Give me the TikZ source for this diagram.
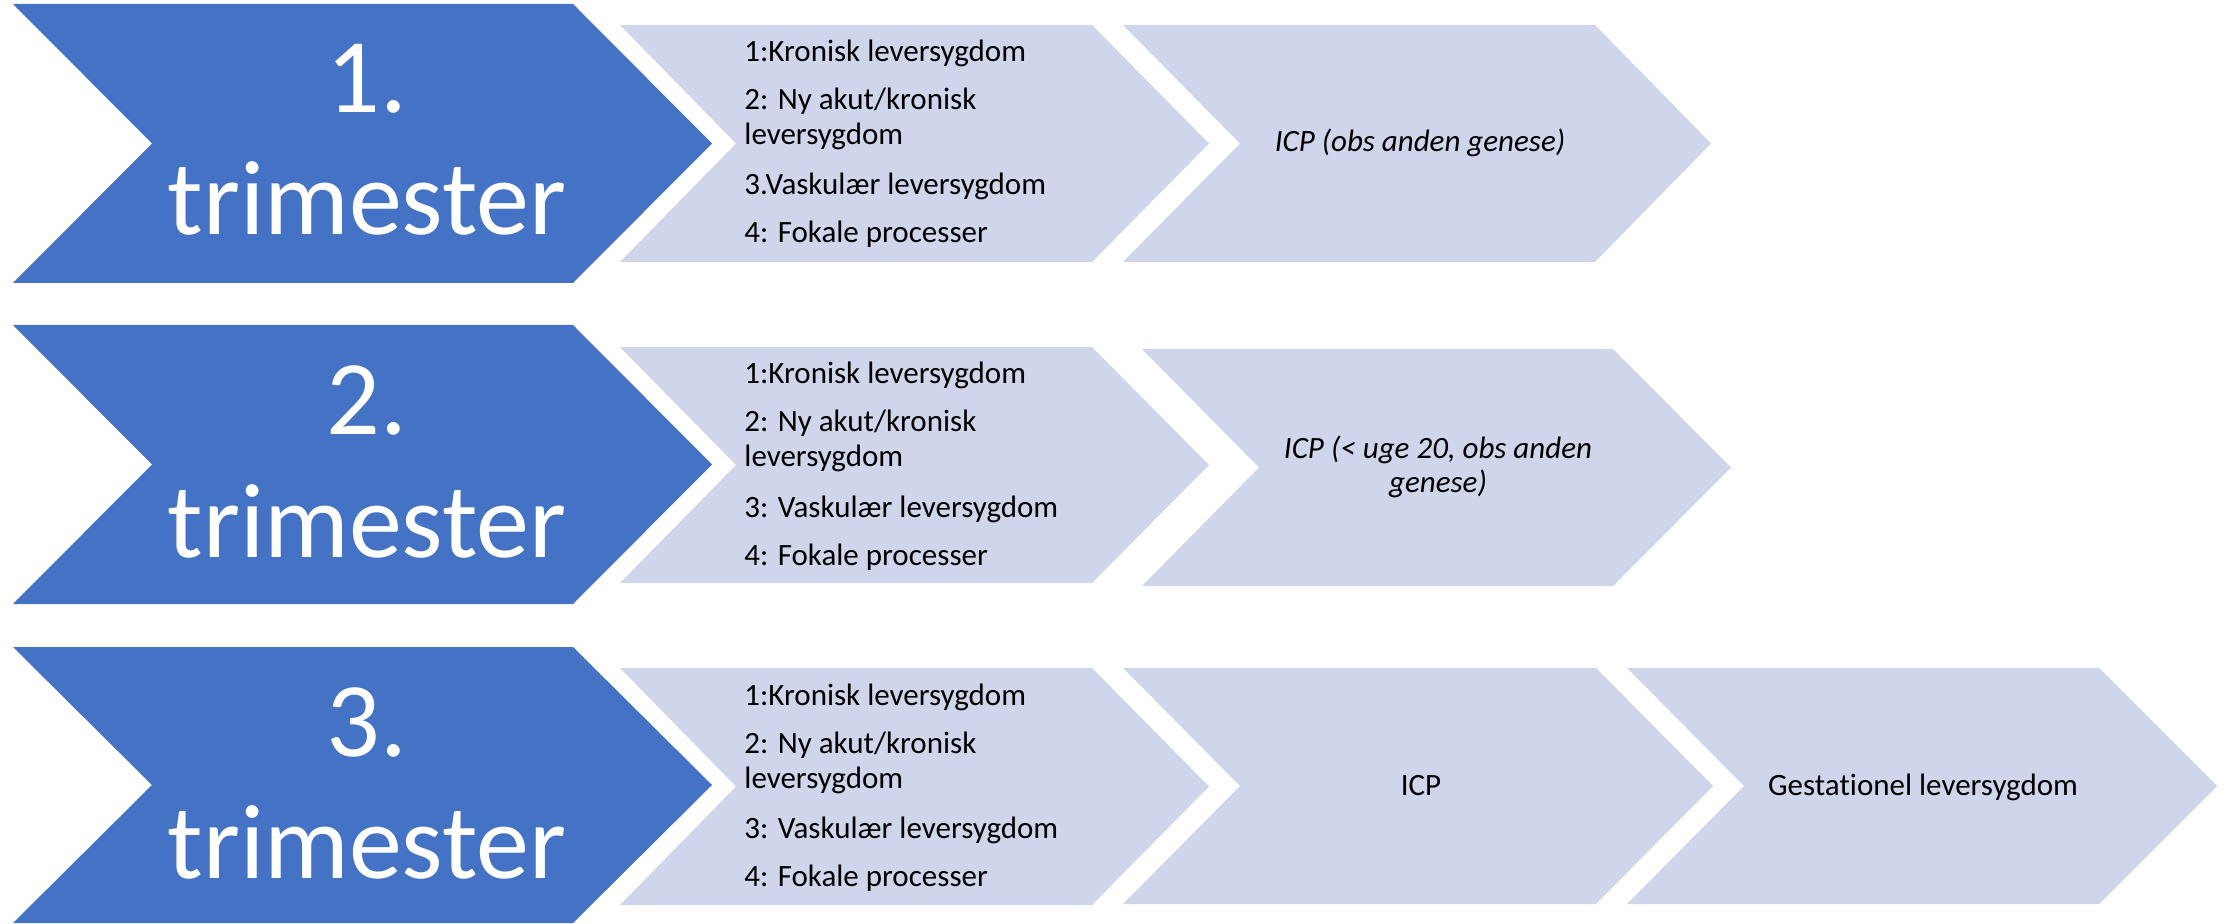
\documentclass[tikz,border=0pt]{standalone}
\usepackage{fontspec}
\setmainfont[Ligatures={NoCommon}]{Carlito}
\definecolor{darkblue}{RGB}{68,114,196}
\definecolor{lightlav}{RGB}{207,213,234}
\newcommand{\mychev}[7]{%
  \fill[#1] (#2,#6) -- (#3,#6) -- (#4,{(#6+#7)/2}) -- (#3,#7) -- (#2,#7) -- (#5,{(#6+#7)/2}) -- cycle;}
\begin{document}
\begin{tikzpicture}[x=0.5pt,y=-0.5pt,
  bigtxt/.style={inner sep=0pt,anchor=base,text=white,font=\fontsize{53}{61}\selectfont},
  listtxt/.style={inner sep=0pt,anchor=base west,text=black,font=\fontsize{15.5}{17.5}\selectfont},
  midtxt/.style={inner sep=0pt,anchor=base,text=black,font=\fontsize{15.5}{17.5}\selectfont},
  ittxt/.style={midtxt,font=\fontsize{15.5}{17.5}\selectfont\itshape}]
\useasboundingbox (0,0) rectangle (2231,924);
% dark chevrons
\mychev{darkblue}{13}{573}{712}{152}{4}{283}
\mychev{darkblue}{13}{573}{712}{152}{325}{604}
\mychev{darkblue}{13}{573}{712}{152}{647}{923}
% light chevrons column A
\mychev{lightlav}{620}{1092}{1209}{736}{25}{262}
\mychev{lightlav}{620}{1092}{1209}{736}{347}{583}
\mychev{lightlav}{620}{1092}{1209}{736}{668}{905}
% column B
\mychev{lightlav}{1123}{1595}{1711}{1240}{25}{262}
\mychev{lightlav}{1142}{1613}{1731}{1259}{349}{586}
\mychev{lightlav}{1123}{1596}{1713}{1240}{668}{904}
% column C
\mychev{lightlav}{1627}{2099}{2217}{1744}{668}{904}
% dark texts
\node[bigtxt] (n1) at (367,113) {1.};
\node[bigtxt] (t1) at (367,235) {trimester};
\node[bigtxt] (n2) at (367,435) {2.};
\node[bigtxt] (t2) at (367,557) {trimester};
\node[bigtxt] (n3) at (367,756) {3.};
\node[bigtxt] (t3) at (367,878) {trimester};
% row 1 list
\node[listtxt] (r1a) at (744,62) {1:Kronisk leversygdom};
\node[listtxt] (r1b) at (744,110) {2: Ny akut/kronisk};
\node[listtxt] (r1c) at (744,145) {leversygdom};
\node[listtxt] (r1d) at (744,195) {3.Vaskulær leversygdom};
\node[listtxt] (r1e) at (744,243) {4: Fokale processer};
% row 2 list
\node[listtxt] (r2a) at (744,384) {1:Kronisk leversygdom};
\node[listtxt] (r2b) at (744,432) {2: Ny akut/kronisk};
\node[listtxt] (r2c) at (744,467) {leversygdom};
\node[listtxt] (r2d) at (744,517) {3: Vaskulær leversygdom};
\node[listtxt] (r2e) at (744,565) {4: Fokale processer};
% row 3 list
\node[listtxt] (r3a) at (744,705) {1:Kronisk leversygdom};
\node[listtxt] (r3b) at (744,753) {2: Ny akut/kronisk};
\node[listtxt] (r3c) at (744,788) {leversygdom};
\node[listtxt] (r3d) at (744,838) {3: Vaskulær leversygdom};
\node[listtxt] (r3e) at (744,886) {4: Fokale processer};
% column B/C texts
\node[ittxt] (icp1) at (1420,152) {ICP (obs anden genese)};
\node[ittxt] (icp2a) at (1438,459) {ICP (< uge 20, obs anden};
\node[ittxt] (icp2b) at (1438,493) {genese)};
\node[midtxt] (icp3) at (1421,795) {ICP};
\node[midtxt] (gest) at (1923,795) {Gestationel leversygdom};
\end{tikzpicture}
\end{document}
